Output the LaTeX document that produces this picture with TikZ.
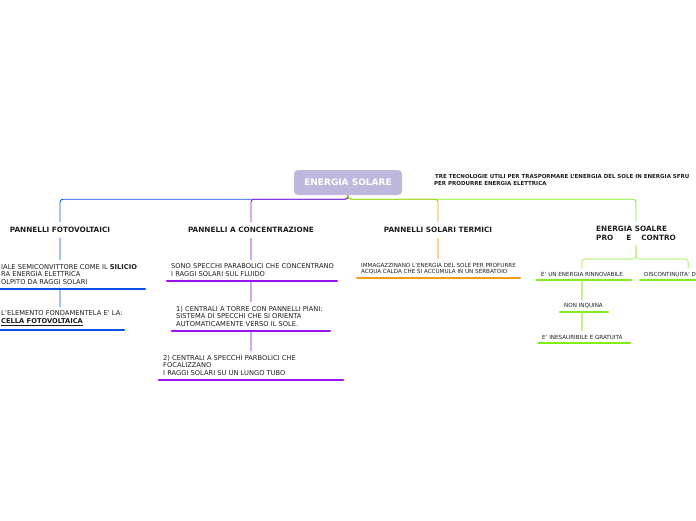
\documentclass[tikz,border=0pt]{standalone}
\usepackage{fontspec}
\setmainfont{DejaVu Sans}
\usepackage{xcolor}
\definecolor{cRoot}{HTML}{BEB9DC}
\definecolor{cBlue}{HTML}{0A4FE6}
\definecolor{cBlueL}{HTML}{A3C2F8}
\definecolor{cPurple}{HTML}{9A12EE}
\definecolor{cPurpleL}{HTML}{D2A6F6}
\definecolor{cOrange}{HTML}{F29A1A}
\definecolor{cOrangeL}{HTML}{FFD49A}
\definecolor{cGreen}{HTML}{80EE1A}
\definecolor{cGreenL}{HTML}{C2F28E}
\definecolor{cText}{HTML}{1E1E1E}
\usetikzlibrary{positioning}
\tikzset{
  node-root/.style={fill=cRoot,rounded corners=4pt,minimum width=108pt,
    minimum height=25pt,text=white,font=\bfseries\fontsize{9}{10}\selectfont},
  node-topic/.style={font=\bfseries\fontsize{7.3}{9}\selectfont,text=cText,
    inner xsep=2pt,inner ysep=5pt,align=left},
  node-note/.style={font=\bfseries\fontsize{5.5}{7}\selectfont,text=cText,
    align=left,inner sep=0pt},
  node-leaf/.style={anchor=south west,align=left,inner xsep=4pt,inner ysep=4pt,
    text=cText,font=\fontsize{6.7}{7.8}\selectfont},
  node-small/.style={node-leaf,inner ysep=3.5pt,font=\fontsize{5.6}{6.5}\selectfont},
  underline/.style={line width=2.6pt,line cap=round,draw=#1},
  link/.style={line width=0.9pt,rounded corners=3pt,draw=#1},
  stem/.style={line width=1.1pt,draw=#1},
}

\begin{document}
\begin{tikzpicture}[x=1pt,y=-1pt]
  \useasboundingbox (0,0) rectangle (696,520);

  % centro
  \node[node-root] (root) at (348,182.5) {ENERGIA SOLARE};
  \node[node-note,anchor=north west] (note) at (434,174.5)
    {\hspace{1pt}TRE TECNOLOGIE UTILI PER TRASPORMARE L'ENERGIA DEL SOLE IN ENERGIA SFRU\\
     PER PRODURRE ENERGIA ELETTRICA};

  % rami principali
  \node[node-topic] (fv) at (60,230) {PANNELLI FOTOVOLTAICI};
  \node[node-topic] (conc) at (251,230) {PANNELLI A CONCENTRAZIONE};
  \node[node-topic] (term) at (438,230) {PANNELLI SOLARI TERMICI};
  \node[node-topic,anchor=west] (pc) at (594,233.5)
    {ENERGIA SOALRE\\PRO\hspace*{13pt}E\hspace*{10pt}CONTRO};

  \draw[link=cBlue] (root.south) -- ++(0,4) -| (fv.north);
  \draw[link=cPurple] (root.south) -- ++(0,4) -| (conc.north);
  \draw[link=cOrange] (root.south) -- ++(0,4) -| (term.north);
  \draw[link=cGreen] (root.south) -- ++(0,4) -| (pc.north);

  % fotovoltaici
  \node[node-leaf] (f1) at (-3,289)
    {IALE SEMICONVITTORE COME IL \textbf{SILICIO}\\RA ENERGIA ELETTRICA\\OLPITO DA RAGGI SOLARI};
  \node[node-leaf] (f2) at (-3,330)
    {L'ELEMENTO FONDAMENTELA E' LA:\\\underline{\textbf{CELLA FOTOVOLTAICA}}};
  \draw[stem=cBlueL] (fv.south) -- (fv.south |- f1.north);
  \draw[stem=cBlueL] (fv.south |- f1.south) -- (fv.south |- f2.north);
  \draw[underline=cBlue] (f1.south west) -- ++(148,0);
  \draw[underline=cBlue] (f2.south west) -- ++(127,0);

  % concentrazione
  \node[node-leaf] (c1) at (167,281)
    {SONO SPECCHI PARABOLICI CHE CONCENTRANO\\I RAGGI SOLARI SUL FLUIDO};
  \node[node-leaf] (c2) at (172,331)
    {1) CENTRALI A TORRE CON PANNELLI PIANI:\\SISTEMA DI SPECCHI CHE SI ORIENTA\\AUTOMATICAMENTE VERSO IL SOLE.};
  \node[node-leaf] (c3) at (159,380)
    {2) CENTRALI A SPECCHI PARBOLICI CHE\\FOCALIZZANO\\I RAGGI SOLARI SU UN LUNGO TUBO};
  \draw[stem=cPurpleL] (conc.south) -- (conc.south |- c1.north);
  \draw[stem=cPurpleL] (conc.south |- c1.south) -- (conc.south |- c2.north);
  \draw[stem=cPurpleL] (conc.south |- c2.south) -- (conc.south |- c3.north);
  \draw[underline=cPurple] (c1.south west) -- ++(170,0);
  \draw[underline=cPurple] (c2.south west) -- ++(158,0);
  \draw[underline=cPurple] (c3.south west) -- ++(184,0);

  % termici
  \node[node-small] (t1) at (357,278)
    {IMMAGAZZINANO L'ENERGIA DEL SOLE PER PROFURRE\\ACQUA CALDA CHE SI ACCUMULA IN UN SERBATOIO};
  \draw[stem=cOrangeL] (term.south) -- (term.south |- t1.north);
  \draw[underline=cOrange] (t1.south west) -- ++(163,0);

  % pro e contro
  \node[node-small] (p1) at (537,280) {E' UN ENERGIA RINNOVABILE};
  \node[node-small,text width=88pt] (p2) at (640,280) {DISCONTINUITA' D};
  \node[node-small] (p3) at (560,312) {NON INQUINA};
  \node[node-small] (p4) at (538,343) {E' INESAURIBILE E GRATUITA};
  \draw[stem=cGreenL,rounded corners=3pt] (pc.south) -- ++(0,13) -| (p1.north);
  \draw[stem=cGreenL,rounded corners=3pt] (pc.south) -- ++(0,13) -| (p2.north);
  \draw[stem=cGreenL] (p1.south) -- (p1.south |- p3.north);
  \draw[stem=cGreenL] (p1.south |- p3.south) -- (p1.south |- p4.north);
  \draw[underline=cGreen] (p1.south west) -- ++(94,0);
  \draw[underline=cGreen] (p2.south west) -- ++(96,0);
  \draw[underline=cGreen] (p3.south west) -- ++(48,0);
  \draw[underline=cGreen] (p4.south west) -- ++(92,0);
\end{tikzpicture}
\end{document}
